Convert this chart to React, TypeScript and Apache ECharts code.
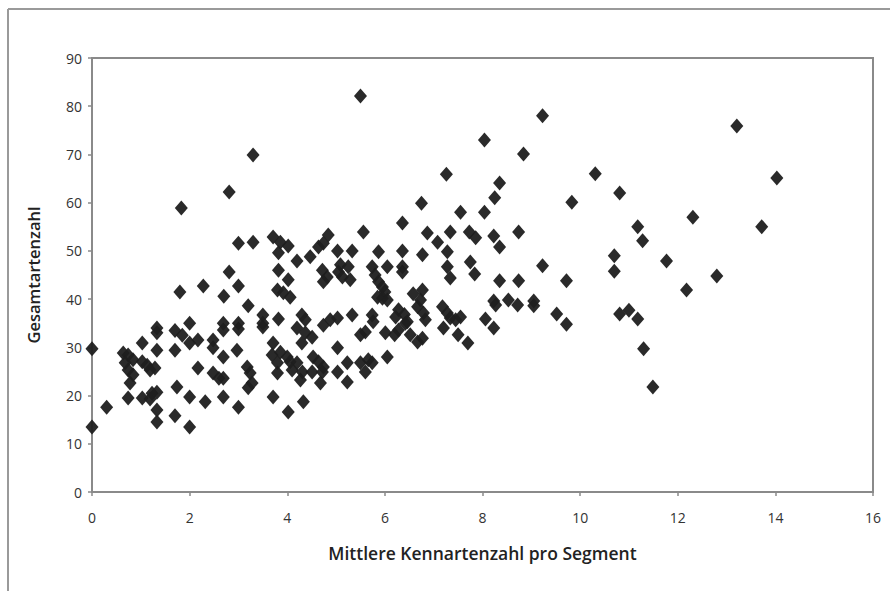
import React, { useEffect, useRef } from "react";
import * as echarts from "echarts";

const xTicks = [0, 2, 4, 6, 8, 10, 12, 14, 16];
const yTicks = [0, 10, 20, 30, 40, 50, 60, 70, 80, 90];
const xAxisTitle = "Mittlere Kennartenzahl pro Segment";
const yAxisTitle = "Gesamtartenzahl";

// [Mittlere Kennartenzahl, Gesamtartenzahl]
const band0: number[][] = [
  [0, 29.7], [0, 13.5], [0.3, 17.6],
  [0.64, 28.8], [0.74, 28.4], [0.68, 26.8], [0.74, 25.3], [0.84, 24.3], [0.78, 22.6], [0.84, 27.4], [0.74, 19.5],
];
const band1: number[][] = [
  [1.03, 30.9], [1.03, 27.0], [1.13, 26.3], [1.19, 25.3], [1.29, 25.7], [1.03, 19.5], [1.19, 19.3], [1.23, 20.5],
  [1.33, 20.7], [1.33, 34.0], [1.33, 33.0], [1.33, 29.4], [1.33, 17.0], [1.33, 14.5],
];
const band2: number[][] = [
  [1.7, 33.5], [1.85, 32.5], [2.0, 35.0], [1.7, 29.4], [1.74, 21.8], [1.7, 15.8], [1.8, 41.5], [1.83, 58.9],
  [2.0, 30.9], [2.17, 31.5], [2.17, 25.7], [2.0, 19.7], [2.0, 13.5], [2.28, 42.7], [2.32, 18.7],
];
const band3: number[][] = [
  [2.48, 31.5], [2.48, 29.9], [2.48, 24.7], [2.6, 23.6], [2.69, 23.6], [2.69, 35.0], [2.69, 33.6], [2.69, 28.0],
  [2.69, 19.7], [2.7, 40.6], [2.81, 45.6], [2.81, 62.2], [3.0, 35.0], [3.0, 33.8], [2.97, 29.4], [3.0, 42.7],
  [3.0, 51.6], [3.0, 17.6], [3.18, 25.9], [3.24, 24.7], [3.28, 22.6], [3.2, 21.6], [3.2, 38.6], [3.3, 51.8], [3.3, 69.9],
];
const band4: number[][] = [
  [3.5, 36.7], [3.5, 35.0], [3.5, 34.2], [3.71, 52.9], [3.86, 51.8], [4.02, 51.0], [3.82, 49.6], [3.82, 46.0],
  [4.02, 44.0], [3.8, 41.9], [3.92, 41.3], [4.06, 40.4], [3.82, 35.9], [3.71, 30.9], [3.71, 19.7], [4.02, 16.6],
  [4.2, 47.9], [4.2, 34.0], [4.3, 36.7], [4.37, 35.7], [4.37, 33.0], [4.51, 32.1], [4.3, 30.9], [4.33, 18.7],
  [3.69, 28.4], [3.86, 29.0], [4.0, 28.0], [4.06, 27.0], [4.2, 26.8], [4.1, 25.3], [3.8, 26.8], [3.8, 24.7],
  [4.31, 24.9], [4.27, 23.2],
];
const band5: number[][] = [
  [4.47, 48.8], [4.84, 53.3], [4.74, 51.6], [4.64, 50.8], [5.03, 50.0], [5.33, 50.0], [5.09, 47.1], [5.25, 46.7],
  [5.05, 45.6], [5.13, 44.6], [5.29, 44.0], [4.72, 46.0], [4.82, 44.6], [4.74, 43.6], [4.74, 34.6], [4.88, 35.7],
  [5.03, 36.1], [5.33, 36.7], [4.53, 28.0], [4.64, 27.0], [4.74, 25.9], [4.51, 24.9], [4.72, 24.9], [4.68, 22.6],
  [5.03, 29.9], [5.03, 24.9], [5.23, 26.8], [5.23, 22.8], [5.5, 82.1],
];
const band6: number[][] = [
  [5.56, 53.9], [5.87, 49.8], [5.74, 46.7], [5.8, 45.0], [5.87, 43.6], [5.95, 42.5], [6.0, 41.5], [5.95, 40.2],
  [6.05, 39.8], [5.85, 40.4], [6.05, 46.7], [5.74, 36.7], [5.76, 35.3], [5.6, 33.2], [5.5, 32.6], [6.01, 33.0],
  [6.2, 32.6], [6.28, 33.6], [6.42, 35.0], [6.28, 37.8], [6.22, 36.3], [6.4, 36.8], [6.46, 35.3], [5.5, 26.8],
  [5.66, 27.4], [5.74, 26.8], [5.6, 24.9], [6.05, 28.0],
];
const band7: number[][] = [
  [6.36, 55.8], [6.36, 50.0], [6.36, 46.7], [6.36, 45.6], [6.77, 49.2], [6.75, 59.9], [6.87, 53.7], [7.08, 51.8],
  [7.28, 49.8], [7.28, 46.7], [7.34, 44.4], [7.34, 53.9], [7.26, 65.9], [6.58, 41.1], [6.77, 41.9], [6.73, 39.8],
  [6.67, 38.4], [6.79, 37.1], [6.83, 35.7], [6.52, 32.6], [6.67, 31.1], [6.77, 31.9], [7.18, 38.4], [7.28, 37.1],
  [7.34, 36.1], [7.45, 35.7], [7.55, 36.3], [7.2, 34.0], [7.5, 32.6], [7.7, 30.9],
];
const band8: number[][] = [
  [7.55, 58.0], [8.04, 58.0], [7.73, 53.9], [7.86, 52.7], [8.23, 53.1], [8.35, 50.8], [8.74, 53.9], [8.35, 64.1],
  [8.25, 61.0], [8.04, 73.0], [8.84, 70.1], [9.23, 78.0], [7.75, 47.7], [7.84, 45.2], [8.35, 43.8], [8.74, 43.8],
  [9.23, 46.9], [8.23, 39.6], [8.27, 38.8], [8.53, 39.8], [8.72, 38.8], [9.05, 39.6], [9.05, 38.6], [8.06, 35.9],
  [8.23, 34.0],
];
const band9: number[][] = [
  [9.52, 36.9], [9.72, 34.8], [9.72, 43.8], [9.83, 60.1], [10.31, 66.0], [10.81, 62.0], [11.18, 55.0], [11.28, 52.1],
  [10.7, 49.0], [10.7, 45.8], [11.77, 47.9], [12.18, 41.9], [12.8, 44.8], [12.31, 57.0], [13.21, 75.9], [14.03, 65.1],
  [13.72, 55.0], [10.81, 36.9], [11.0, 37.7], [11.18, 35.9], [11.3, 29.7], [11.49, 21.8],
];

const points = [...band0, ...band1, ...band2, ...band3, ...band4, ...band5, ...band6, ...band7, ...band8, ...band9];

const FONT = "'Open Sans', 'Noto Sans', sans-serif";

export default function App() {
  const ref = useRef<HTMLDivElement>(null);
  useEffect(() => {
    if (!ref.current) return;
    const chart = echarts.init(ref.current, null, { renderer: "svg" });
    chart.setOption({
      animation: false,
      backgroundColor: "#ffffff",
      grid: {
        left: 92,
        right: 17,
        top: 58,
        bottom: 99,
        show: true,
        borderColor: "#8a8a8a",
        borderWidth: 2,
        backgroundColor: "transparent",
      },
      xAxis: {
        type: "value",
        min: xTicks[0],
        max: xTicks[xTicks.length - 1],
        interval: 2,
        name: xAxisTitle,
        nameLocation: "middle",
        nameGap: 52,
        nameTextStyle: { fontFamily: FONT, fontSize: 17.5, color: "#222", fontWeight: 600 },
        axisLine: { show: true, lineStyle: { color: "#8a8a8a", width: 2 } },
        axisTick: { show: true, length: 4, lineStyle: { color: "#8a8a8a", width: 1.5 } },
        axisLabel: { fontFamily: FONT, fontSize: 14, color: "#333", margin: 18 },
        splitLine: { show: false },
      },
      yAxis: {
        type: "value",
        min: yTicks[0],
        max: yTicks[yTicks.length - 1],
        interval: 10,
        name: yAxisTitle,
        nameLocation: "middle",
        nameGap: 50,
        nameRotate: 90,
        nameTextStyle: { fontFamily: FONT, fontSize: 16.5, color: "#222", fontWeight: 600 },
        axisLine: { show: true, lineStyle: { color: "#8a8a8a", width: 2 } },
        axisTick: { show: true, length: 4, lineStyle: { color: "#8a8a8a", width: 1.5 } },
        axisLabel: { fontFamily: FONT, fontSize: 14, color: "#333", margin: 10 },
        splitLine: { show: false },
      },
      graphic: [
        {
          type: "line",
          shape: { x1: 8, y1: 9, x2: 890, y2: 9 },
          style: { stroke: "#9a9a9a", lineWidth: 2 },
        },
        {
          type: "line",
          shape: { x1: 8, y1: 9, x2: 8, y2: 591 },
          style: { stroke: "#9a9a9a", lineWidth: 2 },
        },
      ],
      series: [
        {
          type: "scatter",
          data: points,
          symbol: "diamond",
          symbolSize: [13, 15],
          itemStyle: { color: "#1f1f1f", opacity: 0.95 },
        },
      ],
    });
    return () => chart.dispose();
  }, []);
  return (
    <div
      ref={ref}
      style={{ position: "fixed", left: 0, top: 0, width: 890, height: 591 }}
    />
  );
}
